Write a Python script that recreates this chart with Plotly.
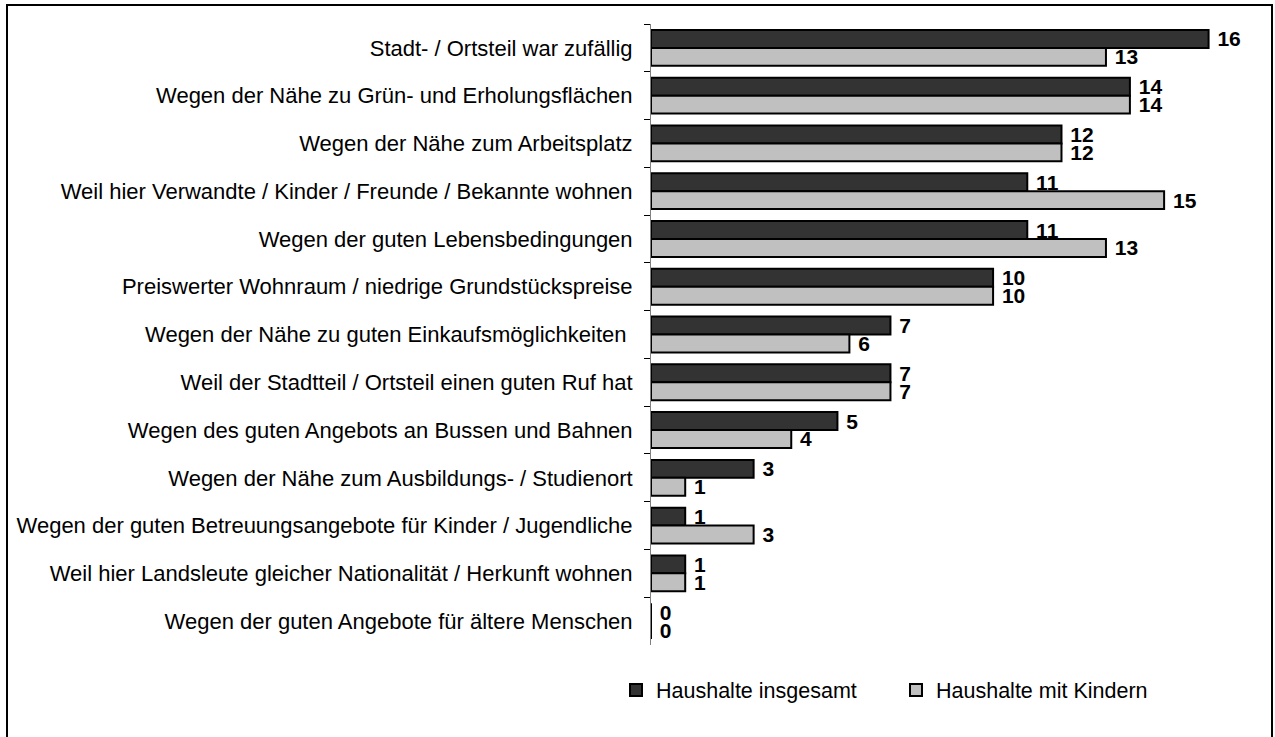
import plotly.graph_objects as go

categories = [
    "Stadt- / Ortsteil war zufällig",
    "Wegen der Nähe zu Grün- und Erholungsflächen",
    "Wegen der Nähe zum Arbeitsplatz",
    "Weil hier Verwandte / Kinder / Freunde / Bekannte wohnen",
    "Wegen der guten Lebensbedingungen",
    "Preiswerter Wohnraum / niedrige Grundstückspreise",
    "Wegen der Nähe zu guten Einkaufsmöglichkeiten ",
    "Weil der Stadtteil / Ortsteil einen guten Ruf hat",
    "Wegen des guten Angebots an Bussen und Bahnen",
    "Wegen der Nähe zum Ausbildungs- / Studienort",
    "Wegen der guten Betreuungsangebote für Kinder / Jugendliche",
    "Weil hier Landsleute gleicher Nationalität / Herkunft wohnen",
    "Wegen der guten Angebote für ältere Menschen",
]
insgesamt = [16.3, 14.0, 12.0, 11.0, 11.0, 10.0, 7.0, 7.0, 5.45, 3.0, 1.0, 1.0, 0.0]
mit_kindern = [13.3, 14.0, 12.0, 15.0, 13.3, 10.0, 5.8, 7.0, 4.1, 1.0, 3.0, 1.0, 0.0]

FONT = "Liberation Sans, Arial, sans-serif"

fig = go.Figure()
for name, vals, col in [("Haushalte insgesamt", insgesamt, "#333333"),
                        ("Haushalte mit Kindern", mit_kindern, "#C0C0C0")]:
    fig.add_trace(go.Bar(
        name=name, y=categories, x=vals, orientation="h",
        marker=dict(color=col, line=dict(color="#000000", width=2)),
        texttemplate=" %{x:.0f}", textposition="outside", cliponaxis=False,
        constraintext="none",
        textfont=dict(family=FONT, size=21, color="#000000", weight="bold"),
    ))

L, R, T, B = 651, 24, 24, 92
W, H = 1275, 737
pw, ph = W - L - R, H - T - B

def px(x):
    return (x - L) / pw

def py(y):
    return (H - B - y) / ph

fig.update_layout(
    width=W, height=H,
    margin=dict(l=L, r=R, t=T, b=B, autoexpand=False),
    paper_bgcolor="white", plot_bgcolor="white",
    barmode="group", bargap=0.25, bargroupgap=0,
    font=dict(family=FONT, size=22, color="#000000"),
    xaxis=dict(range=[0, 17.54], visible=False, fixedrange=True, automargin=False),
    yaxis=dict(
        autorange="reversed", type="category", automargin=False,
        showline=True, linecolor="#808080", linewidth=1,
        ticks="outside", tickson="boundaries", ticklen=6, tickcolor="#000000",
        tickfont=dict(family=FONT, size=22, color="#000000"),
        ticklabelstandoff=13, showgrid=False,
    ),
    legend=dict(
        orientation="h", x=px(616), xanchor="left", y=py(690), yanchor="middle",
        font=dict(family=FONT, size=21.5, color="#000000"),
        itemwidth=30, bgcolor="rgba(0,0,0,0)",
        entrywidth=235, entrywidthmode="pixels",
    ),
    showlegend=True,
    shapes=[dict(
        type="rect", xref="paper", yref="paper",
        x0=px(7), x1=px(1272), y0=py(760), y1=py(5),
        line=dict(color="#000000", width=2), fillcolor="rgba(0,0,0,0)", layer="below",
    )],
)

fig.write_html("out.html", config={"displayModeBar": False},
               post_script="document.body.style.margin='0';")
